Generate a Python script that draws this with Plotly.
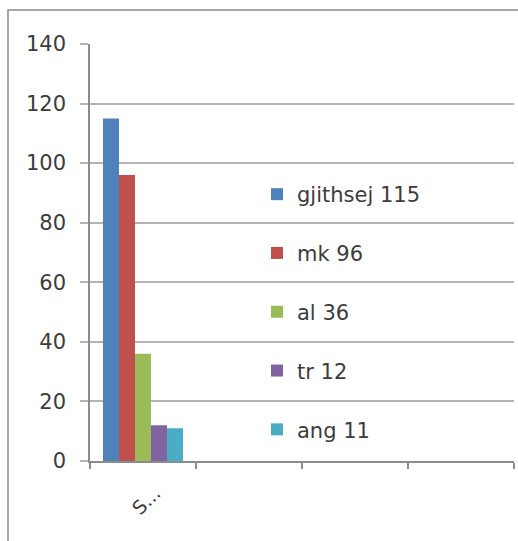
import plotly.graph_objects as go

# Categories on the x axis (only the first one carries data)
categories = ["S...", " ", "  ", "   "]

# Series names and their values for the first category
series_names = ["gjithsej 115", "mk 96", "al 36", "tr 12", "ang 11"]
series_values = [115, 96, 36, 12, 11]
series_colors = ["#4F81BD", "#C0504D", "#9BBB59", "#8064A2", "#4BACC6"]

y_ticks = [0, 20, 40, 60, 80, 100, 120, 140]

FONT = "DejaVu Sans"
TEXT_COLOR = "#3c3c3c"
GRID = "#b4b4b4"
AXIS = "#8c8c8c"

fig = go.Figure()
for i, (name, val, col) in enumerate(zip(series_names, series_values, series_colors)):
    fig.add_trace(go.Bar(
        x=categories,
        y=[val, None, None, None],
        name=name,
        legendgroup=f"g{i}",
        marker=dict(color=col, line=dict(width=0)),
    ))

W, H = 518, 541
L, R, T, B = 90, 4, 44, 80
plot_w = W - L - R
plot_h = H - T - B

def px_x(x):
    return (x - L) / plot_w

def px_y(y):
    return (H - B - y) / plot_h

fig.update_layout(
    width=W, height=H,
    margin=dict(l=L, r=R, t=T, b=B, pad=0),
    paper_bgcolor="white", plot_bgcolor="white",
    barmode="group", bargap=0.245, bargroupgap=0,
    font=dict(family=FONT, size=21, color=TEXT_COLOR),
    showlegend=True,
    legend=dict(
        x=px_x(257), y=px_y(174), xanchor="left", yanchor="top",
        bgcolor="rgba(0,0,0,0)", borderwidth=0,
        tracegroupgap=28.5, traceorder="grouped",
        font=dict(family=FONT, size=21, color=TEXT_COLOR),
        itemclick=False,
    ),
    shapes=[dict(
        type="rect", xref="paper", yref="paper",
        x0=px_x(8), x1=px_x(540), y0=px_y(560), y1=px_y(10),
        line=dict(color="#8a8a8a", width=1.5), layer="below",
    )],
)

fig.update_yaxes(
    range=[0, 140], tickvals=y_ticks,
    showgrid=True, gridcolor=GRID, gridwidth=1.5,
    showline=True, linecolor=AXIS, linewidth=1.5,
    ticks="outside", ticklen=8, tickcolor=GRID, tickwidth=1.5,
    zeroline=False,
    tickfont=dict(family=FONT, size=21, color=TEXT_COLOR),
    ticklabelstandoff=10,
)
fig.update_xaxes(
    type="category", categoryorder="array", categoryarray=categories,
    tickson="boundaries", ticks="outside", ticklen=6,
    tickcolor=AXIS, tickwidth=1.5,
    showline=True, linecolor=AXIS, linewidth=1.5,
    showgrid=False, tickangle=-45,
    tickfont=dict(family=FONT, size=19, color=TEXT_COLOR),
    ticklabelshift=12, ticklabelstandoff=12,
)

fig.write_html("out.html")
